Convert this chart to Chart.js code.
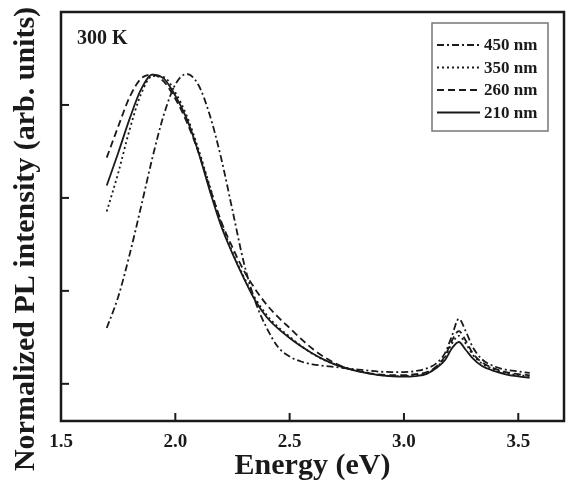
<!DOCTYPE html>
<html>
<head>
<meta charset="utf-8">
<script src="https://cdn.jsdelivr.net/npm/chart.js@4.4.1/dist/chart.umd.min.js"></script>
<style>
html,body{margin:0;padding:0;background:#fff;}
#wrap{width:569px;height:484px;position:relative;}
</style>
</head>
<body>
<div id="wrap"><canvas id="c"></canvas></div>
<script>
const energy = [1.70,1.75,1.80,1.85,1.90,1.95,2.00,2.05,2.10,2.15,2.20,2.25,2.30,2.35,2.40,2.45,2.50,2.55,2.60,2.65,2.70,2.75,2.80,2.85,2.90,2.95,3.00,3.05,3.10,3.14,3.18,3.21,3.24,3.27,3.30,3.34,3.40,3.45,3.50,3.55];
const pl450 = [0.18,0.28,0.417,0.571,0.73,0.869,0.966,1.0,0.966,0.869,0.73,0.56,0.39,0.265,0.18,0.118,0.088,0.072,0.063,0.058,0.054,0.05,0.046,0.042,0.039,0.038,0.038,0.041,0.05,0.065,0.1,0.155,0.21,0.17,0.12,0.08,0.055,0.045,0.04,0.035];
const pl350 = [0.556,0.68,0.82,0.935,0.993,0.99,0.94,0.865,0.76,0.64,0.52,0.425,0.345,0.275,0.222,0.183,0.152,0.122,0.097,0.077,0.062,0.05,0.041,0.034,0.028,0.025,0.025,0.028,0.035,0.052,0.085,0.13,0.155,0.13,0.095,0.066,0.045,0.034,0.028,0.025];
const pl260 = [0.73,0.83,0.925,0.985,0.998,0.975,0.92,0.845,0.75,0.635,0.525,0.44,0.365,0.305,0.255,0.215,0.18,0.145,0.113,0.087,0.066,0.051,0.041,0.034,0.03,0.028,0.028,0.031,0.038,0.055,0.09,0.14,0.17,0.14,0.1,0.07,0.048,0.037,0.031,0.028];
const pl210 = [0.64,0.745,0.855,0.95,0.998,0.985,0.93,0.855,0.75,0.625,0.51,0.42,0.34,0.268,0.215,0.178,0.148,0.121,0.098,0.078,0.062,0.05,0.04,0.033,0.027,0.024,0.023,0.025,0.032,0.05,0.077,0.115,0.135,0.11,0.083,0.058,0.04,0.03,0.024,0.02];
const seriesLabels = ['450 nm','350 nm','260 nm','210 nm'];
const xTicks = [1.5,2.0,2.5,3.0,3.5];
const yTicks = [0,0.3,0.6,0.9];
const xTitle = 'Energy (eV)';
const yTitle = 'Normalized PL intensity (arb. units)';
const tempLabel = '300 K';

const SERIF = '"Liberation Serif","Times New Roman",serif';
const INK = '#1a1a1a';
const seriesValues = [pl450, pl350, pl260, pl210];
const dashes = [[7,3,2,3],[2,3],[7,4],[]];

const datasets = seriesValues.map((vals,i)=>({
  label: seriesLabels[i],
  data: energy.map((e,j)=>({x:e,y:vals[j]})),
  borderColor: INK,
  borderWidth: 1.8,
  borderDash: dashes[i],
  pointRadius: 0,
  fill: false,
  cubicInterpolationMode: 'monotone'
}));

const decor = {
  id:'decor',
  afterDraw(chart){
    const {ctx, chartArea:{left,right,top,bottom}, scales:{x,y}} = chart;
    ctx.save();
    ctx.strokeStyle = INK; ctx.lineWidth = 2.5; ctx.setLineDash([]);
    ctx.strokeRect(left,top,right-left,bottom-top);
    ctx.lineWidth = 2;
    x.ticks.forEach(t=>{const p=x.getPixelForValue(t.value);ctx.beginPath();ctx.moveTo(p,bottom);ctx.lineTo(p,bottom-8);ctx.stroke();});
    y.ticks.forEach(t=>{const p=y.getPixelForValue(t.value);ctx.beginPath();ctx.moveTo(left,p);ctx.lineTo(left+8,p);ctx.stroke();});
    ctx.fillStyle = INK;
    ctx.font = 'bold 20px '+SERIF;
    ctx.textBaseline='middle'; ctx.textAlign='left';
    ctx.fillText(tempLabel, left+16, top+27);
    const bx = right-132, by = top+11, bw = 116, bh = 108;
    ctx.strokeStyle = '#777'; ctx.lineWidth = 1.5;
    ctx.strokeRect(bx,by,bw,bh);
    ctx.font = 'bold 17px '+SERIF;
    chart.data.datasets.forEach((ds,i)=>{
      const yy = by + 22 + i*22.5;
      ctx.strokeStyle = INK; ctx.lineWidth = 1.8;
      ctx.setLineDash(ds.borderDash);
      ctx.beginPath(); ctx.moveTo(bx+5,yy); ctx.lineTo(bx+48,yy); ctx.stroke();
      ctx.setLineDash([]);
      ctx.fillStyle = INK;
      ctx.fillText(ds.label, bx+52, yy+1);
    });
    ctx.save();
    ctx.translate(26, 239);
    ctx.rotate(-Math.PI/2);
    ctx.font = 'bold 30px '+SERIF;
    ctx.textAlign='center'; ctx.textBaseline='middle';
    ctx.fillText(yTitle,0,0);
    ctx.restore();
    ctx.restore();
  }
};

new Chart(document.getElementById('c'), {
  type:'line',
  data:{datasets},
  options:{
    responsive:true, maintainAspectRatio:false, animation:false,
    layout:{padding:{top:12,right:5,left:0,bottom:0}},
    plugins:{legend:{display:false}, tooltip:{enabled:false}},
    scales:{
      x:{
        type:'linear', min:1.5, max:3.7,
        afterBuildTicks:s=>{s.ticks = xTicks.map(v=>({value:v}));},
        afterFit:s=>{s.height = 63;},
        grid:{display:false, drawTicks:false},
        border:{display:false},
        ticks:{color:INK, padding:10, font:{family:SERIF, size:19, weight:'bold'}, callback:v=>Number(v).toFixed(1)},
        title:{display:true, text:xTitle, color:INK, font:{family:SERIF,size:30,weight:'bold'}, padding:{top:0,bottom:0}}
      },
      y:{
        type:'linear', min:-0.12, max:1.2,
        afterBuildTicks:s=>{s.ticks = yTicks.map(v=>({value:v}));},
        afterFit:s=>{s.width = 61;},
        grid:{display:false, drawTicks:false},
        border:{display:false},
        ticks:{display:false}
      }
    }
  },
  plugins:[decor]
});
</script>
</body>
</html>
